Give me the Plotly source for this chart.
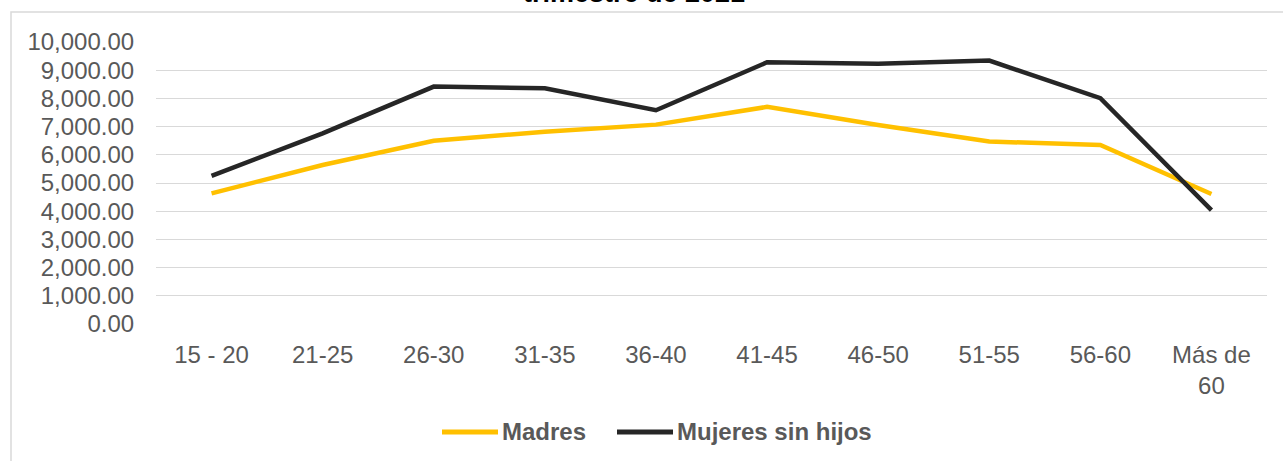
import plotly.graph_objects as go

categories = ["15 - 20", "21-25", "26-30", "31-35", "36-40", "41-45", "46-50", "51-55", "56-60", "Más de<br>60"]
madres = [4630, 5640, 6500, 6820, 7070, 7700, 7060, 6470, 6350, 4610]
sin_hijos = [5250, 6760, 8420, 8360, 7580, 9280, 9230, 9340, 8010, 4040]
series_names = ["Madres", "Mujeres sin hijos"]
series_colors = ["#FFC000", "#262626"]
y_ticks = [0, 1000, 2000, 3000, 4000, 5000, 6000, 7000, 8000, 9000, 10000]
title_text = "trimestre de 2021"

FONT = "Liberation Sans, Arial, sans-serif"
W, H = 1283, 461
L, R, T, B = 156, 1267, 42, 324


def px_x(px):
    return (px - L) / (R - L)


def px_y(py):
    return (B - py) / (B - T)


fig = go.Figure()
for name, vals, col in zip(series_names, [madres, sin_hijos], series_colors):
    fig.add_trace(go.Scatter(x=categories, y=vals, mode="lines", name=name,
                             line=dict(color=col, width=4.5)))

# manual legend (long line keys as in the original)
legend_shapes = []
legend_notes = []
key_starts = [442, 617]
for name, col, x0 in zip(series_names, series_colors, key_starts):
    legend_shapes.append(dict(type="line", xref="paper", yref="paper",
                              x0=px_x(x0), x1=px_x(x0 + 56), y0=px_y(432), y1=px_y(432),
                              line=dict(color=col, width=5)))
    legend_notes.append(dict(text=name, xref="paper", yref="paper", x=px_x(x0 + 58), y=px_y(432),
                             xanchor="left", yanchor="middle", showarrow=False,
                             font=dict(family=FONT, size=24, color="#595959", weight="bold")))

fig.update_layout(
    width=W, height=H,
    margin=dict(l=L, r=W - R, t=T, b=H - B, pad=0, autoexpand=False),
    paper_bgcolor="white", plot_bgcolor="white",
    font=dict(family=FONT, size=24, color="#595959"),
    showlegend=False,
    xaxis=dict(type="category", range=[-0.5, len(categories) - 0.5], automargin=False,
               showgrid=False, zeroline=False, showline=False,
               ticks="outside", ticklen=9, tickcolor="rgba(0,0,0,0)",
               tickfont=dict(family=FONT, size=24, color="#595959")),
    yaxis=dict(range=[0, 10000], tickvals=y_ticks, tickformat=",.2f", automargin=False,
               showgrid=True, gridcolor="#d9d9d9", gridwidth=1.3, zeroline=False,
               showline=False, ticks="outside", ticklen=16, tickcolor="rgba(0,0,0,0)",
               tickfont=dict(family=FONT, size=24, color="#595959")),
    shapes=[dict(type="rect", xref="paper", yref="paper",
                 x0=px_x(11), x1=px_x(1300), y0=px_y(480), y1=px_y(12),
                 line=dict(color="#d9d9d9", width=1.5), fillcolor="rgba(0,0,0,0)", layer="below")]
           + legend_shapes,
    annotations=[dict(text=title_text, xref="paper", yref="paper", x=px_x(634), y=px_y(10),
                      xanchor="center", yanchor="bottom", showarrow=False,
                      font=dict(family=FONT, size=27, color="#000000", weight="bold"))]
                + legend_notes,
)

fig.write_html("out.html", config={"displayModeBar": False},
               post_script="document.body.style.margin='0';document.body.style.overflow='hidden';")
